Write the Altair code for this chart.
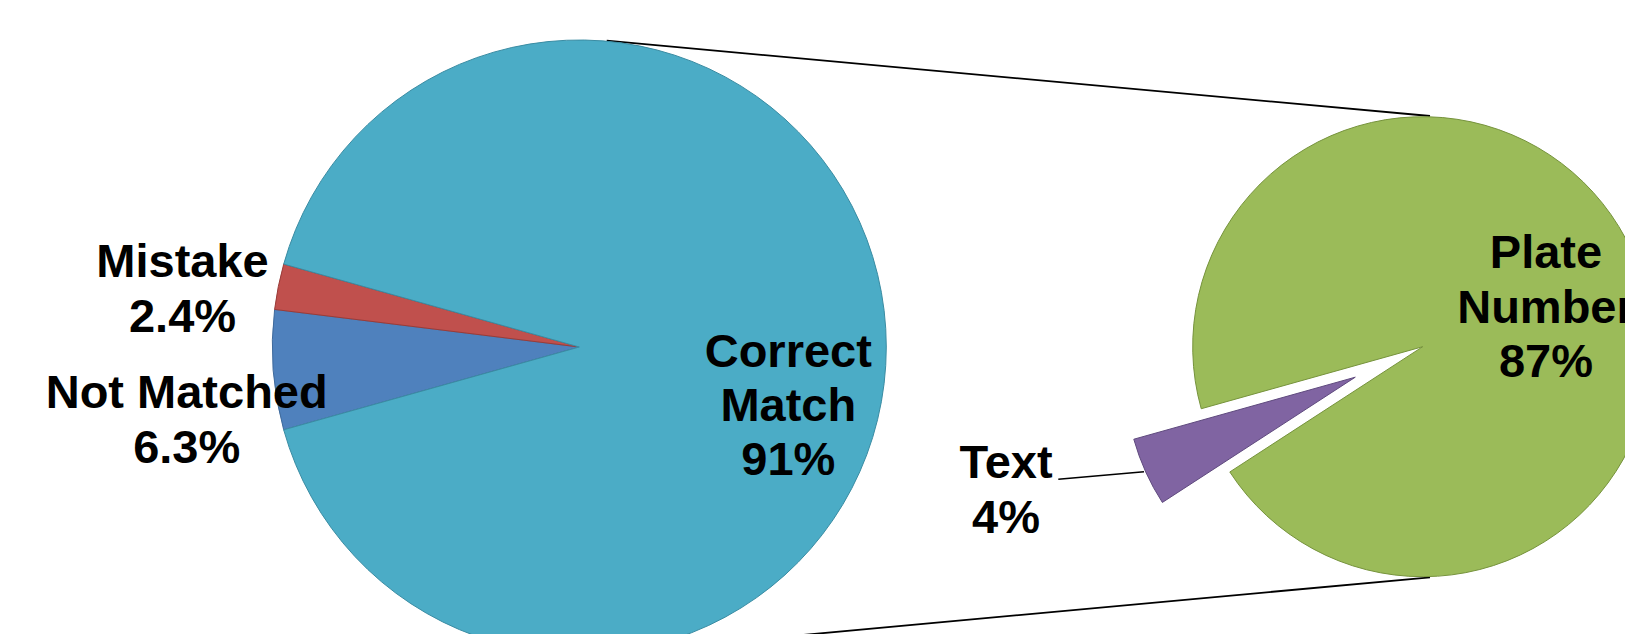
import math
import altair as alt
import pandas as pd

# ---------------- data ----------------
main_labels = ["Not Matched", "Mistake", "Correct Match"]
main_values = [6.3, 2.4, 91.3]
main_texts = ["Not Matched\n6.3%", "Mistake\n2.4%", "Correct\nMatch\n91%"]

detail_labels = ["Plate Number", "Text"]
detail_values = [86.9, 4.4]
detail_texts = ["Plate\nNumber\n87%", "Text\n4%"]

all_labels = ["Correct Match", "Not Matched", "Mistake", "Plate Number", "Text"]
fill_colors = ["#4BACC6", "#4F81BD", "#C0504D", "#9BBB59", "#8064A2"]
edge_colors = ["#3A8CA3", "#3F6A9C", "#9A3C39", "#76933C", "#5F4A7E"]

# ---------------- layout (chart pixel coords) ----------------
W, H = 1617, 626
LEFT_C = (571.3, 339.0)
LEFT_R = 307
RIGHT_C = (1414.7, 338.7)
RIGHT_R = 230
START = math.radians(254.35)
EXPLODE = 74
FONT = "Liberation Sans"
FS = 47
LH = 54.4

label_pos = {
    "Not Matched": (178.7, 400.3),
    "Mistake": (174.5, 269.3),
    "Correct Match": (780.3, 358.7),
    "Plate Number": (1538.0, 260.3),
    "Text": (998.0, 470.3),
}

color_scale = alt.Scale(domain=all_labels, range=fill_colors)
stroke_scale = alt.Scale(domain=all_labels, range=edge_colors)

left_df = pd.DataFrame({"label": main_labels, "value": main_values,
                        "order": list(range(len(main_labels)))})
right_df = pd.DataFrame({"label": detail_labels, "value": detail_values,
                         "order": list(range(len(detail_labels)))})

left_total = sum(main_values)
right_total = sum(detail_values)

left_pie = alt.Chart(left_df).mark_arc(radius=LEFT_R, strokeWidth=1).encode(
    theta=alt.Theta("value:Q", stack=True,
                    scale=alt.Scale(domain=[0, left_total], range=[START, START + 2 * math.pi])),
    order=alt.Order("order:Q"),
    color=alt.Color("label:N", scale=color_scale, legend=None),
    stroke=alt.Stroke("label:N", scale=stroke_scale, legend=None),
    x=alt.value(LEFT_C[0]),
    y=alt.value(LEFT_C[1]),
)

# exploded slice direction
cum_before = sum(detail_values[:detail_labels.index("Text")])
mid = START + (cum_before + detail_values[detail_labels.index("Text")] / 2) / right_total * 2 * math.pi
ex = RIGHT_C[0] + EXPLODE * math.sin(mid)
ey = RIGHT_C[1] - EXPLODE * math.cos(mid)

right_base = alt.Chart(right_df).transform_stack(
    stack="value", groupby=[], as_=["v0", "v1"],
    sort=[alt.SortField("order", order="ascending")],
)
rscale = alt.Scale(domain=[0, right_total], range=[START, START + 2 * math.pi])

right_main = right_base.transform_filter(alt.datum.label != "Text").mark_arc(
    radius=RIGHT_R, strokeWidth=1).encode(
    theta=alt.Theta("v0:Q", scale=rscale),
    theta2="v1:Q",
    color=alt.Color("label:N", scale=color_scale, legend=None),
    stroke=alt.Stroke("label:N", scale=stroke_scale, legend=None),
    x=alt.value(RIGHT_C[0]),
    y=alt.value(RIGHT_C[1]),
)
right_text = right_base.transform_filter(alt.datum.label == "Text").mark_arc(
    radius=RIGHT_R, strokeWidth=1).encode(
    theta=alt.Theta("v0:Q", scale=rscale),
    theta2="v1:Q",
    color=alt.Color("label:N", scale=color_scale, legend=None),
    stroke=alt.Stroke("label:N", scale=stroke_scale, legend=None),
    x=alt.value(ex),
    y=alt.value(ey),
)

# connector (series) lines and leader line
def rule(x1, y1, x2, y2, w=1.8):
    return alt.Chart(pd.DataFrame({"k": [0]})).mark_rule(color="black", strokeWidth=w).encode(
        x=alt.value(x1), y=alt.value(y1), x2=alt.value(x2), y2=alt.value(y2))

top_line = rule(598.7, 32.7, 1422.0, 108.0)
bot_line = rule(598.8, 645.0, 1422.0, 569.3)
leader = rule(1050.3, 471.3, 1136.0, 463.7, 1.6)

# labels
lab_rows = []
for lbl, txt in zip(main_labels + detail_labels, main_texts + detail_texts):
    px, py = label_pos[lbl]
    lab_rows.append({"label": lbl, "txt": txt, "px": px, "py": py})
lab_df = pd.DataFrame(lab_rows)

labels = alt.Chart(lab_df).mark_text(
    font=FONT, fontSize=FS, fontWeight="bold", color="black",
    align="center", baseline="alphabetic", lineBreak="\n", lineHeight=LH,
).encode(
    x=alt.X("px:Q", scale=None),
    y=alt.Y("py:Q", scale=None),
    text="txt:N",
)

chart = alt.layer(
    top_line, bot_line, left_pie, right_main, right_text, leader, labels
).resolve_scale(theta="independent").properties(
    width=W, height=H, autosize=alt.AutoSizeParams(type="none"), padding=0,
).configure_view(stroke=None)

chart.save("out.html", embed_options={"renderer": "svg", "actions": False})
